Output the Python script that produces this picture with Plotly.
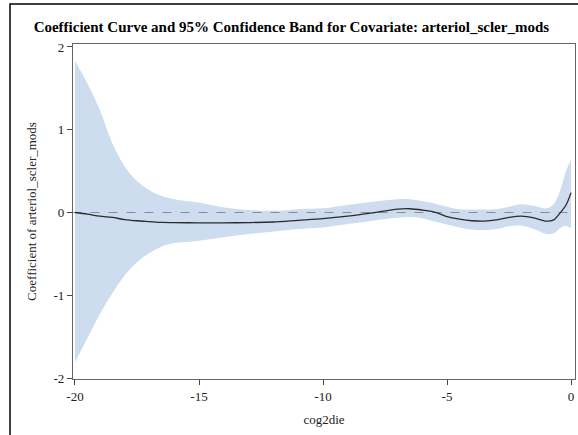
import plotly.graph_objects as go

x_vals = [-20, -19.5, -19, -18.5, -18, -17.5, -17, -16.5, -16, -15, -14, -13, -12, -11, -10,
          -9, -8, -7, -6.5, -6, -5.5, -5, -4.5, -4, -3.5, -3, -2.5, -2, -1.5, -1, -0.7, -0.4, -0.2, 0]
upper = [1.83, 1.56, 1.24, 0.84, 0.56, 0.38, 0.27, 0.2, 0.16, 0.12, 0.06, 0.03, 0.02, 0.04, 0.05,
         0.09, 0.13, 0.16, 0.16, 0.14, 0.11, 0.07, 0.04, 0.035, 0.035, 0.04, 0.07, 0.1, 0.08, 0.05, 0.1, 0.3, 0.5, 0.64]
lower = [-1.81, -1.52, -1.23, -0.98, -0.76, -0.6, -0.49, -0.41, -0.37, -0.34, -0.30, -0.26, -0.23, -0.2, -0.18,
         -0.14, -0.1, -0.065, -0.055, -0.07, -0.11, -0.145, -0.18, -0.205, -0.215, -0.2, -0.165, -0.16, -0.2, -0.26, -0.25, -0.18, -0.16, -0.19]
coef = [0.0, -0.02, -0.045, -0.06, -0.085, -0.1, -0.11, -0.12, -0.122, -0.125, -0.125, -0.122, -0.115, -0.095, -0.075,
        -0.045, -0.005, 0.04, 0.045, 0.03, 0.005, -0.05, -0.08, -0.1, -0.105, -0.09, -0.06, -0.045, -0.065, -0.105, -0.09, 0.01, 0.09, 0.24]

x_ticks = [-20, -15, -10, -5, 0]
y_ticks = [-2, -1, 0, 1, 2]

FONT = "Liberation Serif, Times New Roman, serif"
tick_font = dict(family=FONT, size=13, color="#222")

fig = go.Figure()
fig.add_trace(go.Scatter(x=x_vals, y=upper, mode="lines", line=dict(width=0, shape="spline", smoothing=1.0),
                         showlegend=False, hoverinfo="skip"))
fig.add_trace(go.Scatter(x=x_vals, y=lower, mode="lines", line=dict(width=0, shape="spline", smoothing=1.0),
                         fill="tonexty", fillcolor="#cddcee", showlegend=False, hoverinfo="skip"))
fig.add_trace(go.Scatter(x=[-20.1, 0.2], y=[0, 0], mode="lines",
                         line=dict(color="#8c8c8c", width=1.2, dash="dash"), showlegend=False))
fig.add_trace(go.Scatter(x=x_vals, y=coef, mode="lines",
                         line=dict(color="#2b2b2b", width=1.3, shape="spline", smoothing=0.8), showlegend=False))

# outer frame
fig.add_shape(type="rect", xref="paper", yref="paper", x0=-0.1255, x1=1.5, y0=-1.0, y1=1.1194,
              line=dict(color="black", width=1.5), layer="below")

fig.update_layout(
    width=578, height=435,
    margin=dict(l=73, r=3, t=44, b=56),
    paper_bgcolor="white", plot_bgcolor="white",
    font=dict(family=FONT, size=13, color="#222"),
    title=dict(text="<b>Coefficient Curve and 95% Confidence Band for Covariate: arteriol_scler_mods</b>",
               x=0.435, xref="paper", xanchor="center", y=1 - 27 / 435, yref="container", yanchor="middle",
               font=dict(family=FONT, size=15, color="black")),
    xaxis=dict(range=[-20.08, 0.16], tickvals=x_ticks, ticktext=[str(v) for v in x_ticks],
               showgrid=False, zeroline=False, showline=True, linecolor="#666", linewidth=1.2, mirror=True,
               ticks="outside", ticklen=5, tickcolor="#444", tickfont=tick_font,
               title=dict(text="cog2die", standoff=12, font=dict(family=FONT, size=13))),
    yaxis=dict(range=[-2.012, 2.036], tickvals=y_ticks, ticktext=[str(v) for v in y_ticks],
               showgrid=False, zeroline=False, showline=True, linecolor="#666", linewidth=1.2, mirror=True,
               ticks="outside", ticklen=5, tickcolor="#444", tickfont=tick_font,
               title=dict(text="Coefficient of arteriol_scler_mods", standoff=13, font=dict(family=FONT, size=13))),
)

fig.write_html("out.html")
